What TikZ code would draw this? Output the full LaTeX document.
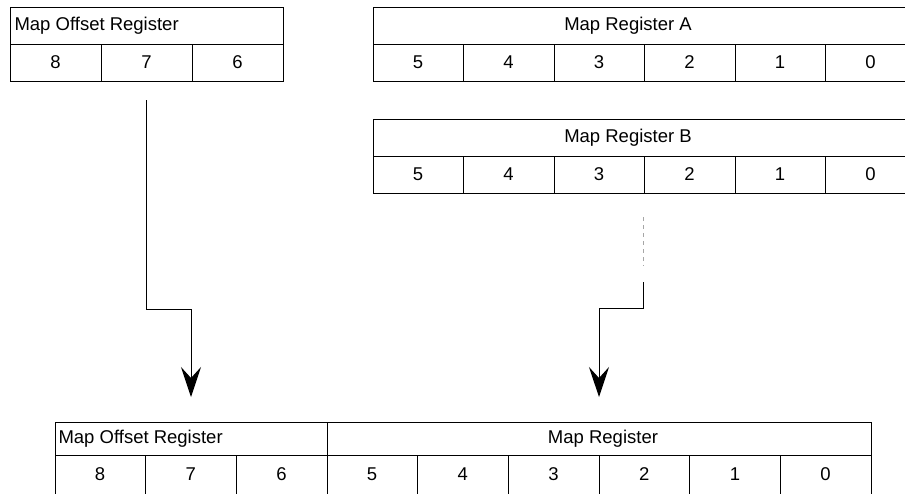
\documentclass[tikz,border=0pt]{standalone}
\usepackage{fontspec}
\setmainfont{Liberation Sans}
\usetikzlibrary{arrows.meta}
\tikzset{>={Stealth[length=30pt,width=20pt,inset=11pt]},every node/.style={font=\fontsize{18.5}{21}\selectfont},
 regline/.style={draw=black,line width=1pt},link/.style={draw=black,line width=1pt},
 hint/.style={draw=gray!70,line width=0.9pt,dash pattern=on 4pt off 4pt}}

\begin{document}
\begin{tikzpicture}[x=1pt,y=-1pt]
\clip (0,0) rectangle (905,493);
% map offset register (top)
\draw[regline] (10,7) rectangle (283,81);
\draw[regline] (10,44)--(283,44);
\foreach \i in {1,2} \draw[regline] (10+91*\i,44)--(10+91*\i,81);
\node[right] (ofshead) at (11,25.5) {Map Offset Register};
\foreach \i/\b in {0/8,1/7,2/6} \node (ofs\b) at (55.5+91*\i,62.5) {\b};
% map registers A and B
\foreach \y/\r/\t in {7/A/Map Register A,119/B/Map Register B}{
 \draw[regline] (373,\y) rectangle (915,\y+74);
 \draw[regline] (373,\y+37)--(915,\y+37);
 \foreach \i in {1,...,5} \draw[regline] (373+90.5*\i,\y+37)--(373+90.5*\i,\y+74);
 \node (reg\r head) at (628,\y+18.5) {\t};
 \foreach \i/\b in {0/5,1/4,2/3,3/2,4/1,5/0} \node (reg\r\b) at (418+90.5*\i,\y+55.5) {\b};
}
% combined register (bottom)
\draw[regline] (55,422) rectangle (871,500);
\draw[regline] (55,455)--(871,455);
\draw[regline] (327,422)--(327,455);
\foreach \i in {1,...,8} \draw[regline] (55+90.7*\i,455)--(55+90.7*\i,500);
\node[right] (allofs) at (55,438.5) {Map Offset Register};
\node (allreg) at (603,438.5) {Map Register};
\foreach \i/\b in {0/8,1/7,2/6,3/5,4/4,5/3,6/2,7/1,8/0} \node (all\b) at (100+90.7*\i,474) {\b};
% links
\coordinate (ofsout) at (146,100);
\coordinate (ofsin) at (191,397);
\draw[link,->] (ofsout)--(146,309)-|(ofsin);
\coordinate (regout) at (643,217);
\coordinate (reggap) at (643,282);
\coordinate (regin) at (599,397);
\draw[hint] (regout)--(643,266);
\draw[link,->] (reggap)--(643,308)-|(regin);
\end{tikzpicture}
\end{document}
